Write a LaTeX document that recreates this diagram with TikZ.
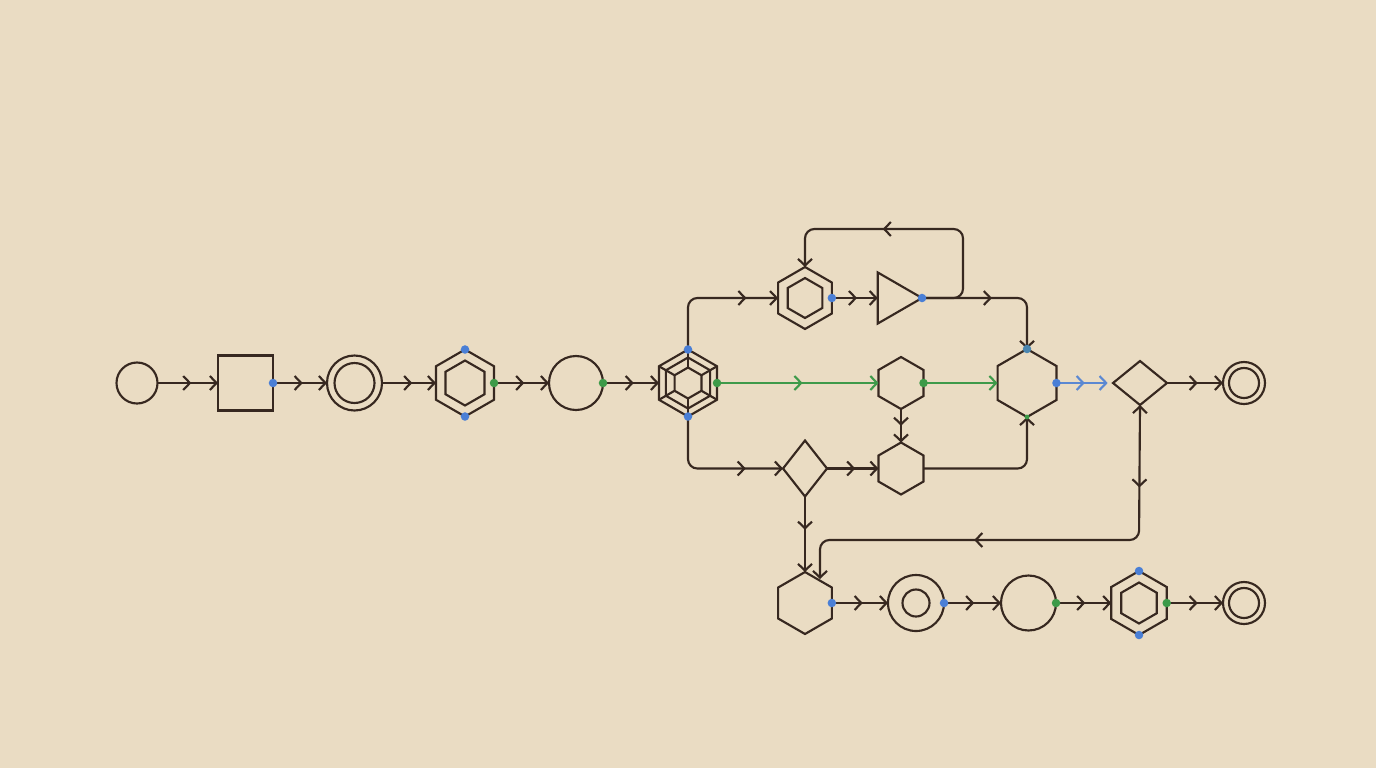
\documentclass[tikz,border=0pt]{standalone}
\usetikzlibrary{arrows.meta,decorations.markings,shapes.geometric}
\definecolor{bgc}{HTML}{EADCC3}
\definecolor{ink}{HTML}{372820}
\definecolor{dotblue}{HTML}{4A7FD6}
\definecolor{dotgreen}{HTML}{3C9A48}
\definecolor{lineblue}{HTML}{5B88D2}
\definecolor{linegreen}{HTML}{3E9A4A}
\definecolor{tealdot}{HTML}{4A86B0}
\tikzset{
  chev/.tip={Straight Barb[length=5pt,width=10.5pt]},
  shp/.style={draw=ink, line width=1.6pt, inner sep=0pt, outer sep=0pt},
  circ/.style={shp, circle, minimum size=#1*1.5pt},
  hexa/.style={shp, regular polygon, regular polygon sides=6, shape border rotate=30, minimum size=#1*1.5pt},
  dia/.style 2 args={shp, diamond, minimum width=#1*0.75pt, minimum height=#2*0.75pt},
  conn/.style={draw=ink, line width=1.6pt, -chev},
  midarr/.style={postaction={decorate,decoration={markings,mark=at position #1 with {\arrow{chev}}}}},
  bdot/.style={fill=dotblue},
  gdot/.style={fill=dotgreen},
}
\begin{document}
\begin{tikzpicture}[x=0.75pt,y=-0.75pt]
\fill[bgc] (0,0) rectangle (1376,768);
\useasboundingbox (0,0) rectangle (1376,768);

% row 1
\node[circ=20.5] (c1) at (137,383) {};
\node[shp, minimum size=55*0.75pt] (sq) at (245.5,383) {};
\node[circ=27.5] (dc1) at (354.5,383) {};
\node[circ=20] (dc1i) at (354.5,383) {};
\node[hexa=33.5] (hx1) at (465,383) {};
\node[hexa=22.5] (hx1i) at (465,383) {};
\node[circ=27] (c2) at (576,383) {};
\node[hexa=33.5] (hx2) at (688,383) {};
\node[hexa=25.5] (hx2m) at (688,383) {};
\node[hexa=15.5] (hx2c) at (688,383) {};
\foreach \i in {1,...,6}{\draw[ink,line width=1.6pt] (hx2c.corner \i) -- (hx2.corner \i);}

% top branch
\node[hexa=31] (hx3) at (805,298) {};
\node[hexa=20] (hx3i) at (805,298) {};
\node[shp, regular polygon, regular polygon sides=3, shape border rotate=-90, minimum size=59*0.75pt] (tri) at (892.5,298) {};

% middle
\node[hexa=26] (hx4) at (901,383) {};
\node[hexa=34] (hx5) at (1027,383) {};
\node[dia={54}{44}] (dm2) at (1140,383) {};
\node[circ=21] (dc3) at (1244,383) {};
\node[circ=15] (dc3i) at (1244,383) {};

% lower branch
\node[dia={44}{56}] (dm1) at (805,468.5) {};
\node[hexa=26] (hx6) at (901,468.5) {};

% bottom row
\node[hexa=31] (hx7) at (805,603) {};
\node[circ=28] (dc2) at (916,603) {};
\node[circ=13.5] (dc2i) at (916,603) {};
\node[circ=27.5] (c3) at (1028.5,603) {};
\node[hexa=32] (hx8) at (1139,603) {};
\node[hexa=20.5] (hx8i) at (1139,603) {};
\node[circ=21] (dc4) at (1244,603) {};
\node[circ=15] (dc4i) at (1244,603) {};

\coordinate (e19end) at (820,579);

% connectors row 1
\draw[conn, midarr=0.56] (c1.east) -- (sq.west);
\draw[conn, midarr=0.55] (sq.east) -- (dc1.west);
\draw[conn, midarr=0.56] (dc1.east) -- (hx1.west);
\draw[conn, midarr=0.55] (hx1.east) -- (c2.west);
\draw[conn, midarr=0.55] (c2.east) -- (hx2.west);

% top branch
\draw[conn, midarr=0.77, rounded corners=7pt] (hx2.north) -- (688,298) -- (hx3.west);
\draw[conn, midarr=0.55] (hx3.east) -- (tri.west);
\draw[conn, midarr=0.62, rounded corners=7pt] (tri.east) -- (963,298) -- (963,229) -- (805,229) -- (hx3.north);
\draw[conn, midarr=0.46, rounded corners=7pt] (tri.east) -- (1027,298) -- (hx5.north);

% middle
\draw[conn, draw=linegreen, midarr=0.53] (hx2.east) -- (hx4.west);
\draw[conn, draw=linegreen] (hx4.east) -- (hx5.west);
\draw[conn, draw=lineblue, midarr=0.5, shorten >=4pt] (hx5.east) -- (dm2.west);
\draw[conn, midarr=0.55] (dm2.east) -- (dc3.west);
\draw[conn, midarr=0.5] (hx4.south) -- (hx6.north);

% lower branch
\draw[conn, midarr=0.74, rounded corners=7pt] (hx2.south) -- (688,468.5) -- (dm1.west);
\draw[conn, midarr=0.55] (dm1.east) -- (hx6.west);
\draw[conn, rounded corners=7pt] (hx6.east) -- (1027,468.5) -- (hx5.south);
\draw[conn, midarr=0.44] (dm1.south) -- (hx7.north);
\draw[draw=ink, line width=1.6pt, chev-chev, midarr=0.17, midarr=0.61, rounded corners=7pt] (dm2.south) -- (1139,540) -- (820,540) -- (e19end);

% bottom row
\draw[conn, midarr=0.55] (hx7.east) -- (dc2.west);
\draw[conn, midarr=0.53] (dc2.east) -- (c3.west);
\draw[conn, midarr=0.53] (c3.east) -- (hx8.west);
\draw[conn, midarr=0.55] (hx8.east) -- (dc4.west);

% dots
\fill[bdot] (sq.east) circle (3.2pt);
\fill[bdot] (hx1.north) circle (3.2pt);
\fill[bdot] (hx1.south) circle (3.2pt);
\fill[gdot] (hx1.east) circle (3.2pt);
\fill[gdot] (c2.east) circle (3.2pt);
\fill[bdot] (hx2.north) circle (3.2pt);
\fill[bdot] (hx2.south) circle (3.2pt);
\fill[gdot] (hx2.east) circle (3.2pt);
\fill[bdot] (hx3.east) circle (3.2pt);
\fill[bdot] (tri.east) circle (3.2pt);
\fill[gdot] (hx4.east) circle (3.2pt);
\fill[fill=tealdot] (hx5.north) circle (3.2pt);
\fill[bdot] (hx5.east) circle (3.2pt);
\fill[gdot] (hx5.south) circle (1.8pt);
\fill[bdot] (hx7.east) circle (3.2pt);
\fill[bdot] (dc2.east) circle (3.2pt);
\fill[gdot] (c3.east) circle (3.2pt);
\fill[bdot] (hx8.north) circle (3.2pt);
\fill[bdot] (hx8.south) circle (3.2pt);
\fill[gdot] (hx8.east) circle (3.2pt);
\end{tikzpicture}
\end{document}
